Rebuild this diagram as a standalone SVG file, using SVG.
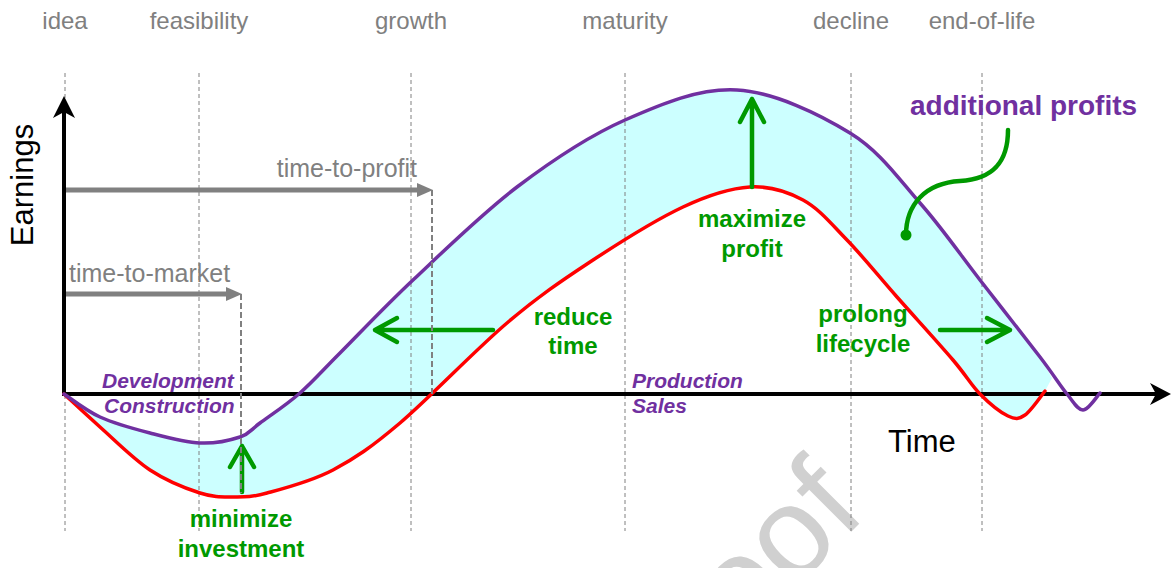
<svg xmlns="http://www.w3.org/2000/svg" width="1172" height="568" viewBox="0 0 1172 568">
<style>
text{font-family:"Liberation Sans",Arial,sans-serif}
.phase{font-size:24px;fill:#808080;text-anchor:middle}
.gtext{font-size:25px;fill:#808080}
.green{font-size:24px;font-weight:bold;fill:#009900;text-anchor:middle}
.stage{font-size:21px;font-weight:bold;font-style:italic;fill:#7030a0}
.axislbl{font-size:31px;fill:#000}
.vline{stroke:#808080;stroke-width:1;stroke-dasharray:4 3;fill:none}
.tdash{stroke:#808080;stroke-width:2;stroke-dasharray:6 3;fill:none}
.garrow{stroke:#009900;stroke-width:4.5;stroke-linecap:round;stroke-linejoin:round;fill:none}
.axis{stroke:#000;stroke-width:4;fill:none}
</style>
<rect width="1172" height="568" fill="#fff"/>
<text x="652" y="731" transform="rotate(-45 652 731)" style="font-size:128px;fill:#d0d0d0">Proof</text>
<g id="band">
<path fill="#ccffff" d="M64,394 C70,397.8 85.7,410.5 100,417 C114.3,423.5 133.3,428.7 150,433 C166.7,437.3 185,442.3 200,443 C215,443.7 230,440.3 240,437 C250,433.7 250,430.3 260,423 C270,415.7 286.7,404.7 300,393 C313.3,381.3 321.2,371.8 340,353 C358.8,334.2 383.5,307.7 413,280 C442.5,252.3 481.7,213.7 517,187 C552.3,160.3 588.3,136.2 625,120 C661.7,103.8 699.5,87.8 737,90 C774.5,92.2 819.5,114.2 850,133 C880.5,151.8 898.3,178.5 920,203 C941.7,227.5 960,254.3 980,280 C1000,305.7 1025.5,338 1040,357 L1052,378 L1045,391 C1041.7,395 1031.2,410.8 1025,415 C1018.8,419.2 1015.5,419.5 1008,416 C1000.5,412.5 989.2,403.3 980,394 C970.8,384.7 966.8,376.2 953,360 C939.2,343.8 914.7,317 897,297 C879.3,277 862.7,256.2 847,240 C831.3,223.8 819.2,208.8 803,200 C786.8,191.2 770,185.8 750,187 C730,188.2 709.7,194.5 683,207 C656.3,219.5 619.3,242.7 590,262 C560.7,281.3 538.7,296.2 507,323 C475.3,349.8 429,398.5 400,423 C371,447.5 355.2,458.3 333,470 C310.8,481.7 283.7,488.5 267,493 C250.3,497.5 244.2,497 233,497 C221.8,497 214.2,497.5 200,493 C185.8,488.5 166.7,481 150,470 C133.3,459 114.3,439.7 100,427 C85.7,414.3 70,399.5 64,394 Z"/>
</g>
<g id="phases">
<line class="vline" x1="65" y1="73" x2="65" y2="531"/>
<line class="vline" x1="199" y1="73" x2="199" y2="531"/>
<line class="vline" x1="411" y1="73" x2="411" y2="531"/>
<line class="vline" x1="625" y1="73" x2="625" y2="531"/>
<line class="vline" x1="851" y1="73" x2="851" y2="531"/>
<line class="vline" x1="982" y1="73" x2="982" y2="531"/>
<text class="phase" x="65" y="29">idea</text>
<text class="phase" x="199" y="29">feasibility</text>
<text class="phase" x="411" y="29">growth</text>
<text class="phase" x="625" y="29">maturity</text>
<text class="phase" x="851" y="29">decline</text>
<text class="phase" x="982" y="29">end-of-life</text>
</g>
<g id="axes">
<line class="axis" x1="64" y1="396" x2="64" y2="110"/>
<polygon points="64,96 53,118 64,112 75,118" fill="#000"/>
<line class="axis" x1="62" y1="394" x2="1160" y2="394"/>
<polygon points="1171,394 1150,383 1156,394 1150,405" fill="#000"/>
<text class="axislbl" x="33" y="185" transform="rotate(-90 33 185)" text-anchor="middle">Earnings</text>
<text class="axislbl" x="888" y="452">Time</text>
</g>
<g id="curves">
<path id="red-curve" fill="none" stroke="#ff0000" stroke-width="3.5" stroke-linecap="round" d="M64,394 C70,399.5 85.7,414.3 100,427 C114.3,439.7 133.3,459 150,470 C166.7,481 185.8,488.5 200,493 C214.2,497.5 221.8,497 233,497 C244.2,497 250.3,497.5 267,493 C283.7,488.5 310.8,481.7 333,470 C355.2,458.3 371,447.5 400,423 C429,398.5 475.3,349.8 507,323 C538.7,296.2 560.7,281.3 590,262 C619.3,242.7 656.3,219.5 683,207 C709.7,194.5 730,188.2 750,187 C770,185.8 786.8,191.2 803,200 C819.2,208.8 831.3,223.8 847,240 C862.7,256.2 879.3,277 897,297 C914.7,317 939.2,343.8 953,360 C966.8,376.2 970.8,384.7 980,394 C989.2,403.3 1000.5,412.5 1008,416 C1015.5,419.5 1018.8,419.2 1025,415 C1031.2,410.8 1041.7,395 1045,391"/>
<path id="purple-curve" fill="none" stroke="#7030a0" stroke-width="3.5" stroke-linecap="round" d="M64,394 C70,397.8 85.7,410.5 100,417 C114.3,423.5 133.3,428.7 150,433 C166.7,437.3 185,442.3 200,443 C215,443.7 230,440.3 240,437 C250,433.7 250,430.3 260,423 C270,415.7 286.7,404.7 300,393 C313.3,381.3 321.2,371.8 340,353 C358.8,334.2 383.5,307.7 413,280 C442.5,252.3 481.7,213.7 517,187 C552.3,160.3 588.3,136.2 625,120 C661.7,103.8 699.5,87.8 737,90 C774.5,92.2 819.5,114.2 850,133 C880.5,151.8 898.3,178.5 920,203 C941.7,227.5 960,254.3 980,280 C1000,305.7 1025.5,338 1040,357 C1054.5,376 1059.8,385.2 1067,394 C1074.2,402.8 1077.5,409.8 1083,410 C1088.5,410.2 1097.2,395.8 1100,393"/>
</g>
<g id="minimize-investment">
<path class="garrow" d="M242,492 V446 M230,467 L242,446 L254,467"/>
<text class="green" x="241" y="527">minimize</text>
<text class="green" x="241" y="557">investment</text>
</g>
<g id="reduce-time">
<path class="garrow" d="M493,330 H375 M397,318 L375,330 L397,342"/>
<text class="green" x="573" y="325">reduce</text>
<text class="green" x="573" y="354">time</text>
</g>
<g id="maximize-profit">
<path class="garrow" d="M752,187 V99 M740,122 L752,99 L764,122"/>
<text class="green" x="752" y="227">maximize</text>
<text class="green" x="752" y="257">profit</text>
</g>
<g id="prolong-lifecycle">
<path class="garrow" d="M940,330 H1010 M987,318 L1010,330 L987,342"/>
<text class="green" x="863" y="322">prolong</text>
<text class="green" x="863" y="352">lifecycle</text>
</g>
<g id="additional-profits">
<path class="garrow" d="M906,235 C906,205 925,183 960,181 C995,179 1008,160 1008,130"/>
<circle cx="906" cy="235" r="5.5" fill="#009900"/>
<text x="910" y="115" style="font-size:28px;font-weight:bold;fill:#7030a0">additional profits</text>
</g>
<g id="time-to-profit">
<line x1="66" y1="190" x2="420" y2="190" stroke="#808080" stroke-width="5"/>
<polygon points="433,190 417,183 417,197" fill="#808080"/>
<line class="tdash" x1="432" y1="190" x2="432" y2="394"/>
<text class="gtext" x="417" y="177" text-anchor="end">time-to-profit</text>
</g>
<g id="time-to-market">
<line x1="66" y1="294" x2="228" y2="294" stroke="#808080" stroke-width="5"/>
<polygon points="242,294 226,287 226,301" fill="#808080"/>
<line class="tdash" x1="241" y1="294" x2="241" y2="493"/>
<text class="gtext" x="69" y="282">time-to-market</text>
</g>
<g id="stages">
<text class="stage" x="102" y="388">Development</text>
<text class="stage" x="104" y="413">Construction</text>
<text class="stage" x="632" y="388">Production</text>
<text class="stage" x="632" y="413">Sales</text>
</g>
</svg>
